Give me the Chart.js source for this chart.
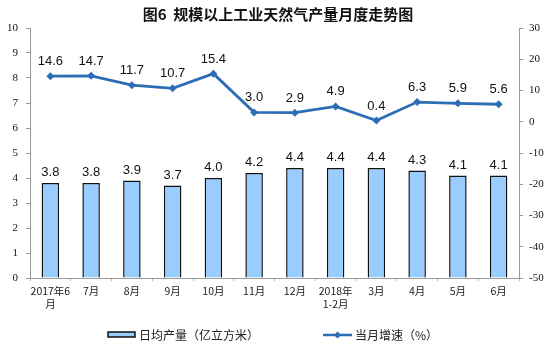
<!DOCTYPE html>
<html>
<head>
<meta charset="utf-8">
<script src="https://cdn.jsdelivr.net/npm/chart.js@4.4.0/dist/chart.umd.min.js"></script>
<style>
  html, body { margin: 0; padding: 0; background: #fff; }
  #wrap { width: 552px; height: 349px; }
</style>
</head>
<body>
<div id="wrap"><canvas id="c" width="552" height="349"></canvas></div>
<script>
// months on the x axis (multi-line where needed)
const months = [['2017年6', '月'], '7月', '8月', '9月', '10月', '11月', '12月',
  ['2018年', '1-2月'], '3月', '4月', '5月', '6月'];
// daily output, 100 million cubic metres
const dailyOutput = [3.8, 3.8, 3.9, 3.7, 4.0, 4.2, 4.4, 4.4, 4.4, 4.3, 4.1, 4.1];
// year-on-year growth for the month, %
const growth = [14.6, 14.7, 11.7, 10.7, 15.4, 3.0, 2.9, 4.9, 0.4, 6.3, 5.9, 5.6];

const cjk = '"Noto Sans CJK SC", "Noto Sans", sans-serif';
const serif = '"Liberation Serif", "DejaVu Serif", serif';
const lineColor = '#2D6DB5';
const barFill = '#99CCFF';

// draws the number above every bar and every line point
const valueLabels = {
  id: 'valueLabels',
  afterDatasetsDraw(chart) {
    const ctx = chart.ctx;
    ctx.save();
    ctx.font = '13px "Liberation Sans", Arial, sans-serif';
    ctx.fillStyle = '#111';
    ctx.textAlign = 'center';
    ctx.textBaseline = 'alphabetic';
    chart.getDatasetMeta(0).data.forEach((el, i) => {
      ctx.fillText(dailyOutput[i].toFixed(1), el.x, el.y - 7);
    });
    chart.getDatasetMeta(1).data.forEach((el, i) => {
      ctx.fillText(growth[i].toFixed(1), el.x, el.y - 11);
    });
    ctx.restore();
  }
};

// title and legend drawn by hand to keep the old-style look
const decorations = {
  id: 'decorations',
  afterDraw(chart) {
    const ctx = chart.ctx;
    ctx.save();
    ctx.fillStyle = '#111';
    ctx.font = 'bold 15px ' + cjk;
    ctx.textAlign = 'center';
    ctx.textBaseline = 'middle';
    ctx.fillText('图6  规模以上工业天然气产量月度走势图', 278, 14);

    // bar legend item
    ctx.fillStyle = barFill;
    ctx.fillRect(108, 332, 27, 5);
    ctx.strokeStyle = '#111';
    ctx.lineWidth = 1.5;
    ctx.strokeRect(108, 332, 27, 5);
    ctx.fillStyle = '#222';
    ctx.font = '12px ' + cjk;
    ctx.textAlign = 'left';
    ctx.fillText('日均产量（亿立方米）', 139, 335);

    // line legend item
    ctx.strokeStyle = lineColor;
    ctx.lineWidth = 2.5;
    ctx.beginPath();
    ctx.moveTo(323, 335);
    ctx.lineTo(352, 335);
    ctx.stroke();
    ctx.fillStyle = lineColor;
    ctx.beginPath();
    ctx.moveTo(337.5, 331.5);
    ctx.lineTo(341, 335);
    ctx.lineTo(337.5, 338.5);
    ctx.lineTo(334, 335);
    ctx.closePath();
    ctx.fill();
    ctx.fillStyle = '#222';
    ctx.fillText('当月增速（%）', 355, 335);
    ctx.restore();
  }
};

new Chart(document.getElementById('c'), {
  data: {
    labels: months,
    datasets: [
      {
        type: 'bar',
        label: '日均产量（亿立方米）',
        data: dailyOutput,
        yAxisID: 'y',
        backgroundColor: barFill,
        borderColor: '#111',
        borderWidth: 1.5,
        categoryPercentage: 1,
        barPercentage: 0.43,
        order: 2
      },
      {
        type: 'line',
        label: '当月增速（%）',
        data: growth,
        yAxisID: 'y2',
        borderColor: lineColor,
        backgroundColor: lineColor,
        borderWidth: 2.8,
        pointStyle: 'rectRot',
        pointRadius: 4,
        pointBorderWidth: 0,
        tension: 0,
        order: 1
      }
    ]
  },
  options: {
    responsive: false,
    animation: false,
    layout: { padding: { top: 28, left: 0, right: 0, bottom: 0 } },
    plugins: {
      legend: { display: false },
      title: { display: false },
      tooltip: { enabled: false }
    },
    scales: {
      x: {
        offset: true,
        grid: {
          offset: true,
          drawOnChartArea: false,
          drawTicks: true,
          tickLength: 3,
          color: '#bbb'
        },
        border: { color: '#999', width: 1 },
        ticks: {
          color: '#222',
          font: { family: cjk, size: 10.5 },
          maxRotation: 0,
          autoSkip: false,
          padding: 4
        },
        afterFit(scale) { scale.height = 71; }
      },
      y: {
        position: 'left',
        min: 0,
        max: 10,
        grid: { drawOnChartArea: false, tickLength: 4, color: '#999' },
        border: { color: '#999', width: 1 },
        ticks: {
          stepSize: 1,
          color: '#111',
          font: { family: serif, size: 11 },
          padding: 8
        },
        afterFit(scale) { scale.width = 30; }
      },
      y2: {
        position: 'right',
        min: -50,
        max: 30,
        grid: { drawOnChartArea: false, tickLength: 4, color: '#999' },
        border: { color: '#999', width: 1 },
        ticks: {
          stepSize: 10,
          color: '#111',
          font: { family: serif, size: 11 },
          padding: 6,
          callback: (v) => String(v)
        },
        afterFit(scale) { scale.width = 33; }
      }
    }
  },
  plugins: [valueLabels, decorations]
});
</script>
</body>
</html>
